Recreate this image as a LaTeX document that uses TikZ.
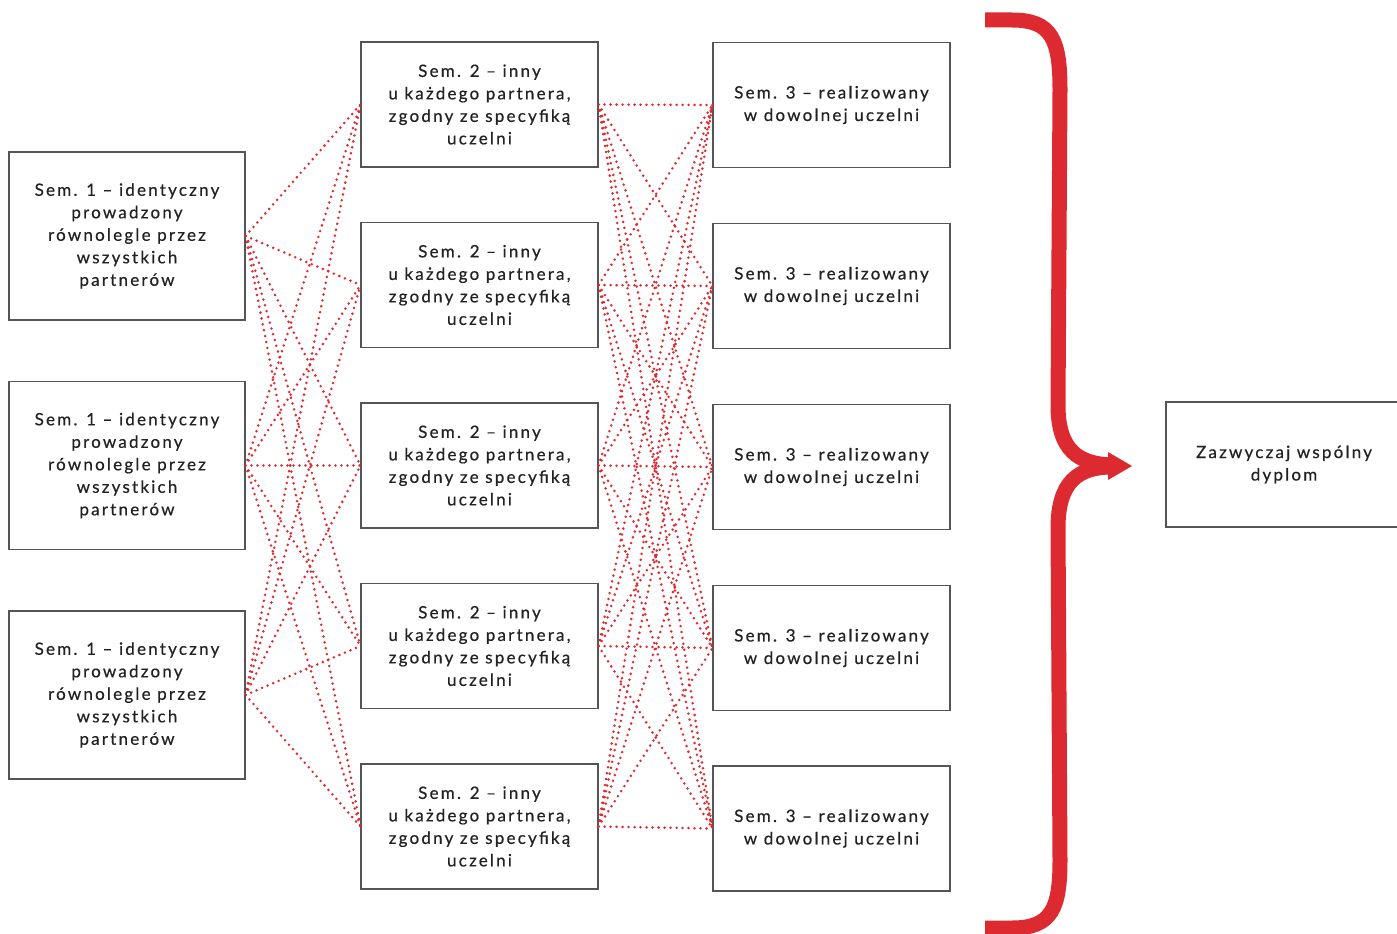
\documentclass[tikz,border=0pt]{standalone}
\usepackage{fontspec}
\setmainfont[LetterSpace=13,FakeBold=0.5]{Lato}
\usepackage{tikz}

\definecolor{dotred}{HTML}{E0282F}
\definecolor{bracered}{HTML}{DC2A30}
\definecolor{boxgray}{HTML}{555555}
\definecolor{textgray}{HTML}{222222}

\tikzset{
    sembox/.style={draw=boxgray, line width=1.1pt, align=center, text=textgray,
        font=\fontsize{17}{22.5}\selectfont, inner sep=0pt},
    semone/.style={sembox, minimum width=236pt, minimum height=168pt},
    semtwo/.style={sembox, minimum width=237pt, minimum height=125pt},
    link/.style={dotred, line width=2.8pt, line cap=round, dash pattern=on 0pt off 6pt},
    brace/.style={bracered, line width=15pt}
}

\begin{document}
\begin{tikzpicture}[x=1pt,y=-1pt]
    \useasboundingbox (0,0) rectangle (1397,934);
    % semestr 1
    \foreach \i/\y in {1/236,2/465.5,3/695}
        \node[semone] (s1-\i) at (127,\y) {Sem. 1 – identyczny\\prowadzony\\równolegle przez\\wszystkich\\partnerów};
    % semestr 2 and 3
    \foreach \i/\y in {1/104.5,2/285,3/465.5,4/646,5/826.5}
        \node[semtwo] (s2-\i) at (479.5,\y) {Sem. 2 – inny\\u każdego partnera,\\zgodny ze specyfiką\\uczelni};
    \foreach \i/\y in {1/105,2/286,3/467,4/648,5/828.5}
        \node[semtwo] (s3-\i) at (831.5,\y) {Sem. 3 – realizowany\\w dowolnej uczelni};
    \node[semtwo, minimum width=236pt] (dyplom) at (1284,464.5) {Zazwyczaj wspólny\\dyplom};

    % dotted links
    \foreach \i in {1,2,3}
        \foreach \j in {1,...,5}
            \draw[link] (s1-\i.east) -- (s2-\j.west);
    \foreach \i in {1,...,5}
        \foreach \j in {1,...,5}
            \draw[link] (s2-\i.east) -- (s3-\j.west);

    % brace with arrow
    \coordinate (tip) at (1132,466);
    \draw[brace] (985,20) -- (1012,20) .. controls (1052,20) and (1060,40) .. (1060,90)
        -- (1058,405) .. controls (1058,450) and (1078,464) .. (1112,465);
    \draw[brace] (985,928) -- (1012,928) .. controls (1052,928) and (1060,908) .. (1060,860)
        -- (1058,528) .. controls (1058,482) and (1078,467) .. (1112,467);
    \fill[bracered] (1108,452) -- (tip) -- (1108,480) -- cycle;
\end{tikzpicture}
\end{document}
